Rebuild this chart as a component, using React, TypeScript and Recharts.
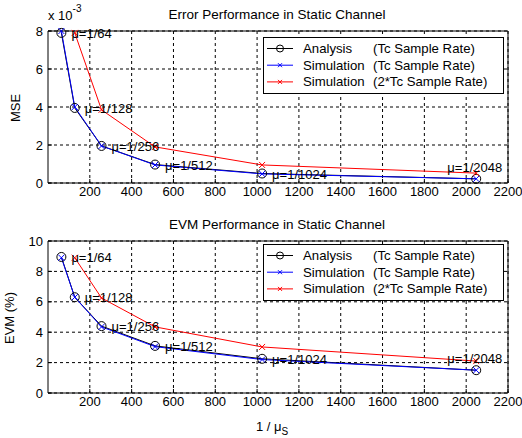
import React from 'react';
import { LineChart, Line, XAxis, YAxis, CartesianGrid, ReferenceArea, LabelList } from 'recharts';

// 1/mu values on the x axis
const invMu = [64, 128, 256, 512, 1024, 2048];
const invMu2 = [128, 256, 512, 1024, 2048];
const muLabels = ['μ=1/64', 'μ=1/128', 'μ=1/256', 'μ=1/512', 'μ=1/1024', 'μ=1/2048'];
const xTicks = [200, 400, 600, 800, 1000, 1200, 1400, 1600, 1800, 2000, 2200];

// MSE (x 10^-3)
const mseAnalysis = [7.9, 3.95, 1.95, 0.97, 0.5, 0.22];
const mseSim = [8.0, 4.0, 1.95, 0.95, 0.48, 0.22];
const mseSim2 = [7.9, 3.85, 1.9, 0.95, 0.52];
const mseTicks = [0, 2, 4, 6, 8];

// EVM (%)
const evmAnalysis = [8.95, 6.3, 4.4, 3.1, 2.25, 1.5];
const evmSim = [8.9, 6.3, 4.35, 3.05, 2.2, 1.5];
const evmSim2 = [8.9, 6.25, 4.35, 3.03, 2.1];
const evmTicks = [0, 2, 4, 6, 8, 10];

const FONT = '"Liberation Sans", Arial, sans-serif';

const toPoints = (xs: number[], ys: number[], scale = 1) =>
  xs.map((x, i) => ({ x, y: ys[i] * scale, label: muLabels[invMu.indexOf(x)] }));

const CircleDot = (props: any) => {
  const { cx, cy } = props;
  if (cx == null || cy == null) return null;
  return <circle cx={cx} cy={cy} r={4.5} fill="none" stroke="#000" strokeWidth={1} />;
};

const makeCross = (color: string) => (props: any) => {
  const { cx, cy } = props;
  if (cx == null || cy == null) return null;
  const s = 3;
  return (
    <path d={`M${cx - s},${cy - s}L${cx + s},${cy + s}M${cx - s},${cy + s}L${cx + s},${cy - s}`} stroke={color} strokeWidth={1} fill="none" />
  );
};

const MuLabel = (props: any) => {
  const { x, y, index, value } = props;
  const last = index === invMu.length - 1;
  return (
    <text
      x={last ? x + 26 : x + 10}
      y={last ? y - 7 : y + 5}
      textAnchor={last ? 'end' : 'start'}
      fontFamily={FONT}
      fontSize={13}
      fill="#000"
    >
      {value}
    </text>
  );
};

const LegendBox = ({ x, y }: { x: number; y: number }) => {
  const rows = [
    { name: 'Analysis', rate: '(Tc Sample Rate)', color: '#000', marker: 'o' },
    { name: 'Simulation', rate: '(Tc Sample Rate)', color: '#0000ff', marker: 'x' },
    { name: 'Simulation', rate: '(2*Tc Sample Rate)', color: '#ff0000', marker: 'x' },
  ];
  return (
    <g transform={`translate(${x},${y})`}>
      <rect x={0.5} y={0.5} width={240} height={56} fill="#fff" stroke="#000" />
      {rows.map((r, i) => {
        const cy = 11.5 + i * 16.7;
        return (
          <g key={i}>
            <line x1={4} x2={30} y1={cy} y2={cy} stroke={r.color} />
            {r.marker === 'o' ? (
              <circle cx={17} cy={cy} r={3.5} fill="none" stroke={r.color} />
            ) : (
              <path d={`M15,${cy - 2}L19,${cy + 2}M15,${cy + 2}L19,${cy - 2}`} stroke={r.color} />
            )}
            <text x={40} y={cy + 4.5} fontFamily={FONT} fontSize={13.2} fill="#000">{r.name}</text>
            <text x={110} y={cy + 4.5} fontFamily={FONT} fontSize={13.2} fill="#000">{r.rate}</text>
          </g>
        );
      })}
    </g>
  );
};

const tickStyle = { fontFamily: FONT, fontSize: 13, fill: '#000' };

const Panel = ({
  title, height, ymax, yTicks, analysis, sim, sim2, yLabel, scale, showExp, showXLabel,
}: any) => {
  return (
    <LineChart width={522} height={height} margin={{ top: 31, right: 14, bottom: 0, left: 0 }}>
      <text x={277} y={19} textAnchor="middle" fontFamily={FONT} fontSize={13.5} fill="#000">{title}</text>
      <CartesianGrid stroke="#000" strokeDasharray="3 3" strokeWidth={1} horizontalValues={yTicks.map((t: number) => t * scale)} verticalValues={xTicks} />
      <XAxis
        type="number"
        dataKey="x"
        domain={[0, 2200]}
        ticks={xTicks}
        allowDuplicatedCategory={false}
        tick={tickStyle}
        tickLine={{ stroke: '#000' }}
        tickSize={-4}
        axisLine={false}
        height={height - 183}
        tickMargin={8}
        label={showXLabel ? {
          content: () => (
            <text x={272} y={height - 7} textAnchor="middle" fontFamily={FONT} fontSize={13} fill="#000">
              1 / μ<tspan fontSize={10} dy={4}>S</tspan>
            </text>
          ),
        } : undefined}
      />
      <YAxis
        type="number"
        domain={[0, ymax * scale]}
        ticks={yTicks.map((t: number) => t * scale)}
        tickFormatter={(v: number) => String(Math.round(v / scale))}
        width={48}
        tick={tickStyle}
        tickLine={{ stroke: '#000' }}
        tickSize={-4}
        axisLine={false}
        tickMargin={9}
        label={{
          content: () => (
            <g>
              <text transform={`translate(${showExp ? 20 : 14},108) rotate(-90)`} textAnchor="middle" fontFamily={FONT} fontSize={13} fill="#000">{yLabel}</text>
              {showExp && (
                <text x={48} y={20} fontFamily={FONT} fontSize={13} fill="#000">
                  x 10<tspan fontSize={10} dy={-8}>-3</tspan>
                </text>
              )}
            </g>
          ),
        }}
      />
      <ReferenceArea x1={0} x2={2200} y1={0} y2={ymax * scale} fill="none" stroke="#000" strokeWidth={1} ifOverflow="visible" />
      <Line
        data={analysis}
        dataKey="y"
        stroke="#000"
        strokeWidth={1}
        dot={<CircleDot />}
        activeDot={false}
        isAnimationActive={false}
      >
        <LabelList dataKey="label" content={<MuLabel />} />
      </Line>
      <Line data={sim} dataKey="y" stroke="#0000ff" strokeWidth={1} dot={makeCross('#0000ff')} activeDot={false} isAnimationActive={false} />
      <Line data={sim2} dataKey="y" stroke="#ff0000" strokeWidth={1} dot={makeCross('#ff0000')} activeDot={false} isAnimationActive={false} />
      <LegendBox x={263} y={showExp ? 37 : 34} />
    </LineChart>
  );
};

export default function App() {
  return (
    <div style={{ position: 'absolute', left: 0, top: 0, width: 522, height: 438, background: '#fff' }}>
      <Panel
        title="Error Performance in Static Channel"
        height={210}
        ymax={8}
        yTicks={mseTicks}
        scale={1e-3}
        analysis={toPoints(invMu, mseAnalysis, 1e-3)}
        sim={toPoints(invMu, mseSim, 1e-3)}
        sim2={toPoints(invMu2, mseSim2, 1e-3)}
        yLabel="MSE"
        showExp
      />
      <Panel
        title="EVM Performance in Static Channel"
        height={228}
        ymax={10}
        yTicks={evmTicks}
        scale={1}
        analysis={toPoints(invMu, evmAnalysis)}
        sim={toPoints(invMu, evmSim)}
        sim2={toPoints(invMu2, evmSim2)}
        yLabel="EVM (%)"
        showXLabel
      />
    </div>
  );
}
